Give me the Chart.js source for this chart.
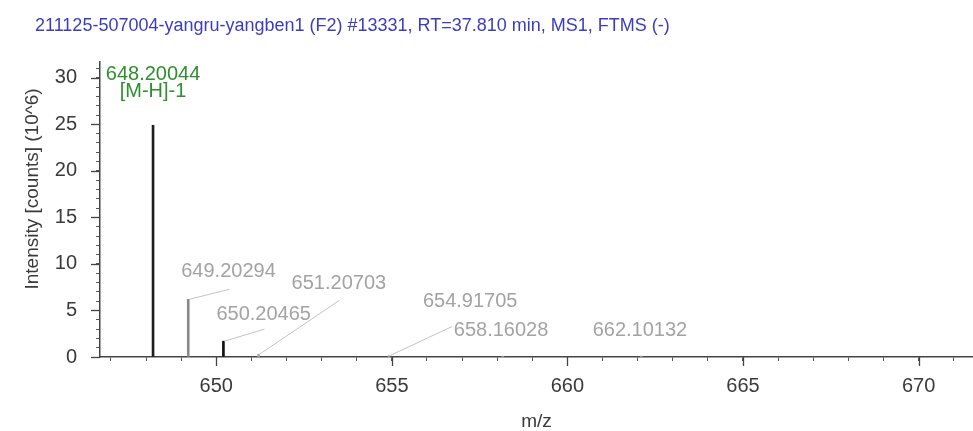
<!DOCTYPE html>
<html><head><meta charset="utf-8">
<script src="https://cdn.jsdelivr.net/npm/chart.js@4"></script>
<style>html,body{margin:0;padding:0;background:#fff}#wrap{width:973px;height:431px;position:relative}</style>
</head><body><div id="wrap"><canvas id="c" width="973" height="431"></canvas></div>
<script>
// ---- data ----
const titleText = '211125-507004-yangru-yangben1 (F2) #13331, RT=37.810 min, MS1, FTMS (-)';
const xAxisTitle = 'm/z';
const yAxisTitle = 'Intensity [counts] (10^6)';
const mz = [648.20044, 649.20294, 650.20465, 651.20703, 654.91705, 658.16028, 662.10132];
const intensity = [24.9, 6.2, 1.7, 0.3, 0.15, 0.1, 0.1];
const peakNotes = ['[M-H]-1', '', '', '', '', '', ''];
const xTickLabels = [650, 655, 660, 665, 670];
const yTickLabels = [0, 5, 10, 15, 20, 25, 30];

// ---- styles / layout ----
const peakColors = ['#1e1e1e', '#8a8a8a', '#111111', '#aaaaaa', '#aaaaaa', '#aaaaaa', '#aaaaaa'];
const noteLayout = [
  {tx: 0, ty: -51, align: 'center', color: '#2f8f2f'},
  {tx: -7, ty: -27.5, align: 'left', color: '#a3a3a3', lx: 41, ly: -10},
  {tx: -7, ty: -27, align: 'left', color: '#a3a3a3', lx: 41, ly: -12},
  {tx: 33, ty: -71, align: 'left', color: '#a3a3a3', lx: 81, ly: -54},
  {tx: 34, ty: -54, align: 'left', color: '#a3a3a3', lx: 63, ly: -29},
  {tx: -49, ty: -26, align: 'left', color: '#a3a3a3'},
  {tx: -48.5, ty: -26, align: 'left', color: '#a3a3a3'}
];
const FONT = '"Liberation Sans", Arial, sans-serif';

const extras = {
  id: 'extras',
  afterDraw(chart) {
    const ctx = chart.ctx, xs = chart.scales.x, ys = chart.scales.y;
    const area = chart.chartArea;
    ctx.save();
    // title
    ctx.font = '18px ' + FONT;
    ctx.fillStyle = '#3c3cc0';
    ctx.textBaseline = 'middle';
    ctx.textAlign = 'left';
    ctx.fillText(titleText, 35, 26);
    // y axis title
    ctx.save();
    ctx.translate(33, 189);
    ctx.rotate(-Math.PI / 2);
    ctx.font = '19px ' + FONT;
    ctx.fillStyle = '#3a3a3a';
    ctx.textAlign = 'center';
    ctx.fillText(yAxisTitle, 0, 0);
    ctx.restore();
    // major ticks
    ctx.strokeStyle = '#444';
    ctx.lineWidth = 1.3;
    xTickLabels.forEach(v => {
      const p = Math.round(xs.getPixelForValue(v)) + 0.5;
      ctx.beginPath(); ctx.moveTo(p, area.bottom); ctx.lineTo(p, area.bottom + 9); ctx.stroke();
    });
    yTickLabels.forEach(v => {
      const p = Math.round(ys.getPixelForValue(v)) + 0.5;
      ctx.beginPath(); ctx.moveTo(area.left - 9, p); ctx.lineTo(area.left, p); ctx.stroke();
    });
    // peak annotations
    ctx.font = '20px ' + FONT;
    ctx.textBaseline = 'middle';
    mz.forEach((m, i) => {
      const L = noteLayout[i];
      const px = xs.getPixelForValue(m), py = ys.getPixelForValue(intensity[i]);
      ctx.fillStyle = L.color;
      ctx.textAlign = L.align;
      ctx.fillText(m.toFixed(5), px + L.tx, py + L.ty);
      if (peakNotes[i]) ctx.fillText(peakNotes[i], px + L.tx, py + L.ty + 17);
      if (L.lx !== undefined) {
        ctx.strokeStyle = '#c4c4c4';
        ctx.lineWidth = 1;
        ctx.beginPath(); ctx.moveTo(px + 1, py); ctx.lineTo(px + L.lx, py + L.ly); ctx.stroke();
      }
    });
    ctx.restore();
  }
};

new Chart(document.getElementById('c'), {
  type: 'bar',
  data: {
    datasets: [{
      data: mz.map((m, i) => ({x: m, y: intensity[i]})),
      backgroundColor: peakColors,
      borderWidth: 0,
      barThickness: 2
    }]
  },
  options: {
    responsive: false,
    devicePixelRatio: 1,
    animation: false,
    layout: {padding: {top: 62, right: 0, bottom: 0, left: 0}},
    plugins: {legend: {display: false}, tooltip: {enabled: false}, title: {display: false}},
    scales: {
      x: {
        type: 'linear', min: 646.69, max: 671.55, offset: false,
        grid: {display: true, drawOnChartArea: false, drawTicks: true, tickLength: 4, tickColor: '#555', offset: false},
        border: {display: true, color: '#444', width: 1.5},
        ticks: {stepSize: 1, autoSkip: false, includeBounds: false, maxRotation: 0, padding: 13,
          color: '#3a3a3a', font: {family: FONT, size: 20},
          callback: v => xTickLabels.includes(v) ? String(v) : ''},
        title: {display: true, text: xAxisTitle, color: '#3a3a3a', font: {family: FONT, size: 19, lineHeight: 1}, padding: {top: 0, bottom: 0}},
        afterFit: s => { s.height = 74; }
      },
      y: {
        min: 0, max: 31.7,
        grid: {display: true, drawOnChartArea: false, drawTicks: true, tickLength: 4, tickColor: '#555'},
        border: {display: true, color: '#444', width: 1.5},
        ticks: {stepSize: 1, autoSkip: false, includeBounds: false, padding: 19,
          color: '#3a3a3a', font: {family: FONT, size: 20},
          callback: v => yTickLabels.includes(v) ? String(v) : ''},
        afterFit: s => { s.width = 100; }
      }
    }
  },
  plugins: [extras]
});
</script></body></html>
